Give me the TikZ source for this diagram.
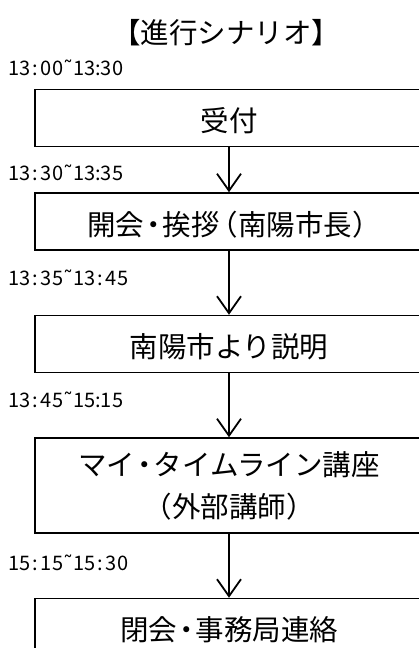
\documentclass[tikz,border=0pt]{standalone}
\usepackage{fontspec}
\setmainfont{Noto Sans CJK JP}
\newfontfamily\symfont{DejaVu Sans}
\usetikzlibrary{arrows.meta,positioning}

\newcommand{\wcolon}{\kern2.5pt:\kern2.5pt}
\newcommand{\upwave}{{\symfont ˜}}
\newcommand{\ndot}{\kern-5pt・\kern-5pt}

\begin{document}
\begin{tikzpicture}[x=1pt,y=-1pt,>={Straight Barb[length=17pt,width=24pt]},
    stage/.style={draw,line width=1.5pt,minimum width=388pt,minimum height=57pt,
      inner sep=0pt,align=center,font=\fontsize{28.5}{42}\selectfont},
    oneline/.style={text height=30pt,text depth=3pt},
    slot/.style={anchor=base west,inner sep=0pt,font=\fontsize{20}{24}\selectfont},
    flow/.style={->,line width=1.8pt}]
  \clip (0,0) rectangle (419,648);

  \node[font=\fontsize{28.5}{34}\selectfont] (title) at (226,33) {【進行シナリオ】};

  % steps
  \node[stage,oneline]             (recv)  at (229,118)      {受付};
  \node[stage,oneline]             (open)  [below=45pt of recv] {開会\ndot 挨拶\kern-10pt（南陽市長）\kern-10pt};
  \node[stage,oneline]             (city)  [below=64pt of open] {南陽市より説明};
  \node[stage,minimum height=95pt] (talk)  [below=64pt of city] {マイ\ndot タイムライン講座\\（外部講師）};
  \node[stage,oneline]             (close) [below=64pt of talk] {閉会\ndot 事務局連絡};

  % times
  \node[slot] (t1) at (8,75)  {13\wcolon00\upwave13:30};
  \node[slot] (t2) at (8,180) {13\wcolon30\upwave13:35};
  \node[slot] (t3) at (8,285) {13\wcolon35\upwave13\wcolon45};
  \node[slot] (t4) at (8,407) {13\wcolon45\upwave15:15};
  \node[slot] (t5) at (8,570) {15\wcolon15\upwave15\wcolon30};

  \draw[flow] (recv) -- (open);
  \draw[flow] (open) -- (city);
  \draw[flow] (city) -- (talk);
  \draw[flow] (talk) -- (close);
\end{tikzpicture}
\end{document}
